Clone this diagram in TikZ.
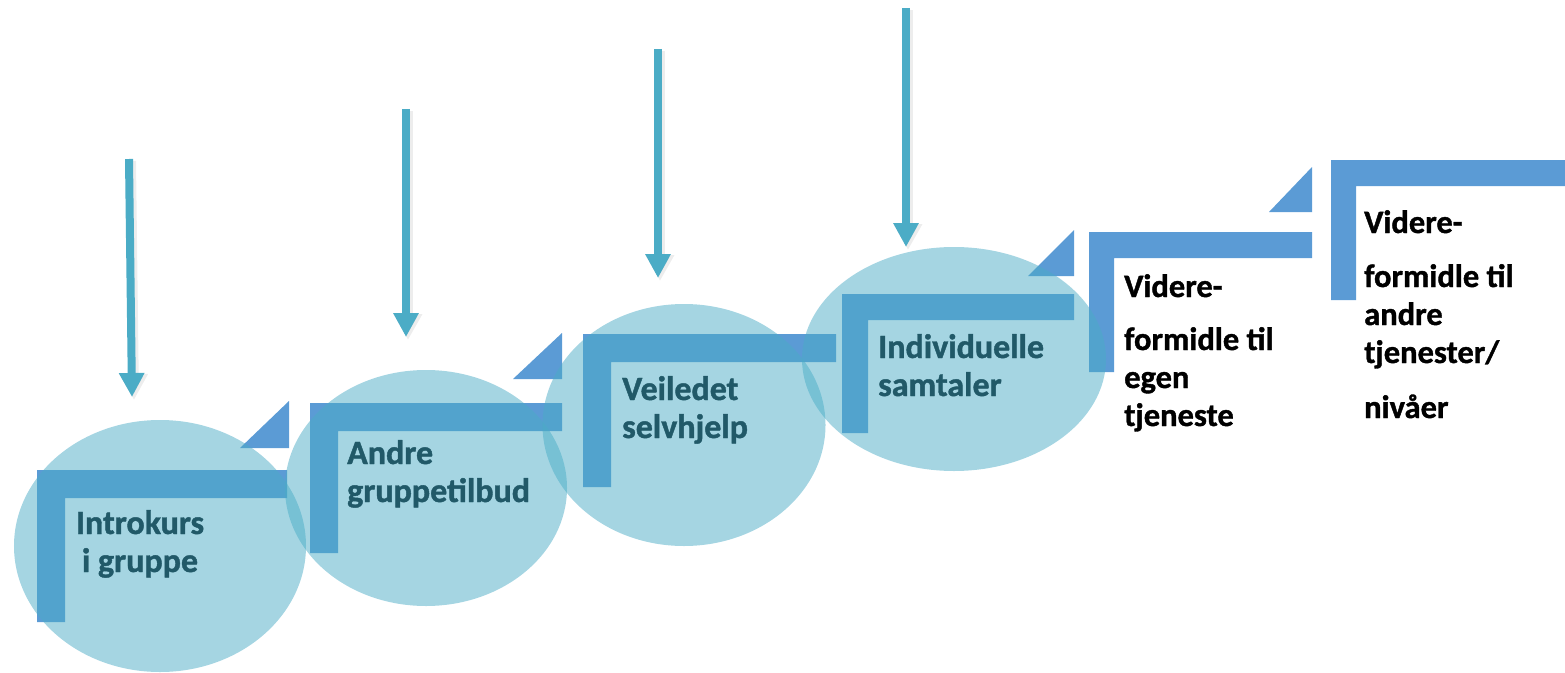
\documentclass[tikz,border=0pt]{standalone}
\usepackage{fontspec}
\setmainfont{Carlito}
\newfontfamily\labelfont[BoldFeatures={FakeBold=1.2}]{Carlito}
\usetikzlibrary{arrows.meta,shapes.geometric}
\definecolor{stepblue}{HTML}{5B9BD5}
\definecolor{aqua}{HTML}{4BACC6}
\definecolor{darkteal}{HTML}{215968}
\begin{document}
\begin{tikzpicture}[x=1bp,y=-1bp,
  bracketshape/.style={fill=stepblue},
  cornertri/.style={fill=stepblue},
  bubble/.style={ellipse,fill=aqua,fill opacity=0.5,draw=none,inner sep=0pt},
  innerlab/.style={font=\labelfont\bfseries\fontsize{34bp}{38bp}\selectfont,text=darkteal,align=left,inner sep=0pt},
  outerlab/.style={font=\labelfont\bfseries\fontsize{32.5bp}{38bp}\selectfont,text=black,align=left,inner sep=0pt},
  downarrow/.style={draw=aqua,line width=8bp,-{Triangle[width=24bp,length=24bp]}},
  arrowshade/.style={draw=black,opacity=0.07,line width=10bp,-{Triangle[width=27bp,length=26bp]}}]
\useasboundingbox (0,0) rectangle (1565,673);

% step brackets
\fill[bracketshape] (37,470) -- (287,470) -- (287,498) -- (65,498) -- (65,622) -- (37,622) -- cycle;
\fill[bracketshape] (310,403) -- (562,403) -- (562,431) -- (338,431) -- (338,553) -- (310,553) -- cycle;
\fill[bracketshape] (583,334) -- (836,334) -- (836,362) -- (611,362) -- (611,487) -- (583,487) -- cycle;
\fill[bracketshape] (842,294) -- (1074,294) -- (1074,320) -- (868,320) -- (868,433) -- (842,433) -- cycle;
\fill[bracketshape] (1089,232) -- (1312,232) -- (1312,258) -- (1114,258) -- (1114,372) -- (1089,372) -- cycle;
\fill[bracketshape] (1331,160) -- (1565,160) -- (1565,186) -- (1356,186) -- (1356,300) -- (1331,300) -- cycle;

% corner triangles
\fill[cornertri] (289,401) -- (289,448) -- (240,448) -- cycle;
\fill[cornertri] (562,333) -- (562,379) -- (513,379) -- cycle;
\fill[cornertri] (1074,230) -- (1074,276) -- (1028,276) -- cycle;
\fill[cornertri] (1312,167) -- (1312,212) -- (1269,212) -- cycle;

% bubbles
\node[bubble,minimum width=292bp,minimum height=252bp] (e1) at (160,546) {};
\node[bubble,minimum width=282bp,minimum height=236bp] (e2) at (426,488) {};
\node[bubble,minimum width=283bp,minimum height=242bp] (e3) at (684,425) {};
\node[bubble,minimum width=304bp,minimum height=224bp] (e4) at (954,359) {};

% arrows
\coordinate (a1s) at (129,159); \coordinate (a1e) at (132,397);
\coordinate (a2s) at (406,109); \coordinate (a2e) at (406,337);
\coordinate (a3s) at (658,49);  \coordinate (a3e) at (658,278);
\coordinate (a4s) at (906,8);   \coordinate (a4e) at (906,247);
\foreach \s/\e in {a1s/a1e,a2s/a2e,a3s/a3e,a4s/a4e}{
  \draw[arrowshade] ([shift={(2,2)}]\s) -- ([shift={(2,3)}]\e);
  \draw[downarrow] (\s) -- (\e);
}

% labels (base anchor = baseline of the last line)
\node[innerlab,align=center,anchor=base] (t1) at (140,572) {Introkurs\\i gruppe};
\node[innerlab,anchor=base west] (t2) at (347,502) {Andre\\gruppetilbud};
\node[innerlab,anchor=base west] (t3) at (622,438) {Veiledet\\selvhjelp};
\node[innerlab,anchor=base west] (t4) at (878,396) {Individuelle\\samtaler};
\node[outerlab,anchor=base west] (t5) at (1124,426) {Videre-\\[15bp]formidle til\\egen\\tjeneste};
\node[outerlab,anchor=base west] (t6) at (1364,418) {Videre-\\[16bp]formidle til\\andre\\tjenester/\\[17bp]nivåer};
\end{tikzpicture}
\end{document}
